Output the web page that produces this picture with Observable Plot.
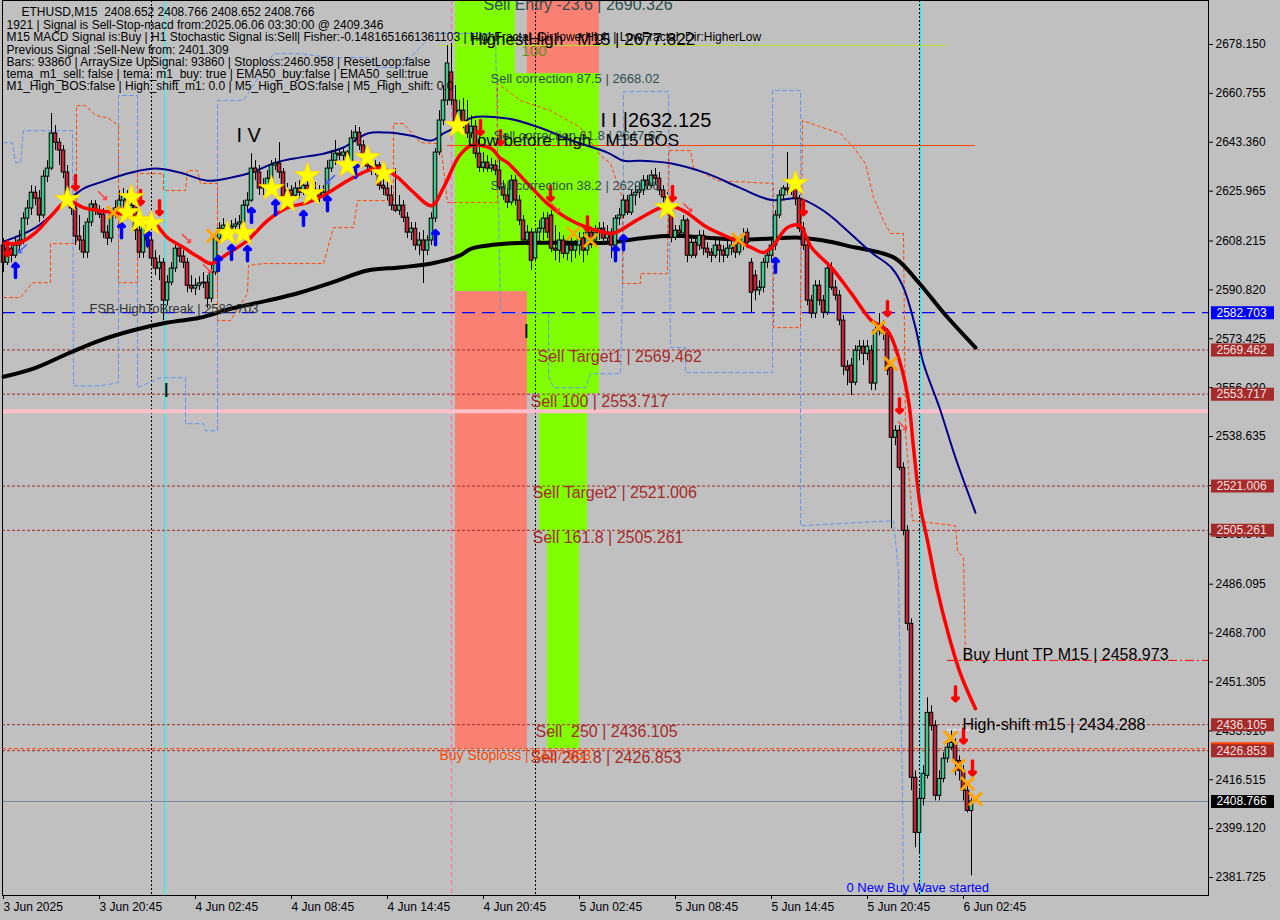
<!DOCTYPE html>
<html><head><meta charset="utf-8"><title>ETHUSD M15</title>
<script src="https://cdn.jsdelivr.net/npm/d3@7"></script>
<script src="https://cdn.jsdelivr.net/npm/@observablehq/plot@0.6"></script>
<style>html,body{margin:0;padding:0;background:#c0c0c0;overflow:hidden}#chart svg{display:block}</style>
</head><body><div id="chart"></div>
<script>
// ---------------- DATA ----------------
const opens=[2606.6,2600.5,2605.5,2603.0,2606.6,2608.4,2616.2,2619.8,2625.4,2623.3,
2617.3,2631.1,2634.0,2646.5,2643.2,2640.4,2632.6,2622.6,2619.8,2609.8,
2608.4,2604.1,2614.8,2621.2,2619.0,2617.6,2611.2,2609.1,2617.3,2619.8,
2622.6,2624.0,2619.0,2620.8,2611.9,2604.1,2613.7,2608.4,2602.0,2598.4,
2600.5,2587.0,2593.4,2598.4,2605.5,2602.7,2600.5,2592.3,2591.3,2592.3,
2593.1,2593.4,2587.7,2597.0,2609.1,2612.6,2613.7,2612.6,2613.3,2614.1,
2614.8,2620.8,2622.6,2634.0,2632.6,2626.9,2627.9,2630.4,2635.1,2635.8,
2632.6,2624.0,2626.2,2624.4,2626.9,2625.4,2627.9,2625.4,2624.4,2626.2,
2624.0,2625.4,2634.0,2636.8,2639.3,2638.6,2639.7,2635.1,2644.7,2646.8,
2642.2,2637.6,2634.7,2633.3,2635.1,2627.9,2626.9,2624.4,2620.8,2619.0,
2620.8,2616.5,2611.2,2612.6,2606.6,2608.4,2604.8,2608.4,2616.2,2639.7,
2651.1,2658.2,2668.2,2658.2,2648.6,2654.6,2650.4,2646.5,2648.9,2639.3,
2634.3,2636.1,2634.0,2635.1,2633.3,2627.2,2624.4,2621.9,2629.7,2622.6,
2615.5,2608.4,2611.2,2602.0,2611.2,2612.6,2616.2,2617.3,2605.5,2604.8,
2608.4,2603.7,2606.6,2604.8,2606.6,2609.1,2604.8,2611.2,2608.4,2611.2,
2612.6,2609.1,2611.2,2606.6,2616.2,2617.3,2622.6,2618.3,2624.4,2625.4,
2626.2,2629.7,2627.9,2631.5,2630.4,2626.2,2623.7,2619.0,2609.4,2611.9,
2610.9,2615.5,2603.0,2607.6,2606.6,2610.1,2605.5,2604.1,2603.0,2606.6,
2604.8,2603.0,2605.5,2606.6,2604.1,2607.6,2611.2,2600.5,2595.9,2590.6,
2591.6,2600.5,2603.0,2606.6,2617.3,2624.4,2626.9,2626.2,2626.9,2623.3,
2612.6,2606.6,2587.0,2582.4,2592.3,2587.0,2582.7,2598.4,2591.6,2588.8,
2579.9,2563.5,2563.9,2557.8,2569.2,2570.6,2568.1,2569.2,2557.5,2576.3,
2577.4,2575.3,2563.1,2538.2,2540.7,2527.5,2505.1,2472.0,2417.2,2397.6,
2409.7,2417.9,2440.3,2435.7,2410.8,2416.8,2424.0,2427.9,2429.6,2423.2,
2419.7,2412.6,2405.4];
const highs=[2609.1,2608.4,2607.6,2609.1,2611.9,2618.3,2622.6,2627.9,2627.6,2626.2,
2633.3,2636.8,2653.6,2649.3,2644.7,2642.2,2635.1,2624.4,2621.5,2617.3,
2613.7,2616.2,2622.6,2622.6,2620.8,2619.8,2613.7,2619.0,2622.6,2626.2,
2626.9,2626.2,2624.4,2622.6,2613.7,2616.2,2615.5,2610.1,2604.8,2603.0,
2602.0,2595.9,2600.5,2606.9,2606.9,2604.8,2602.0,2595.9,2594.8,2595.5,
2597.0,2595.9,2599.5,2611.2,2614.8,2616.2,2615.5,2615.5,2616.2,2617.3,
2622.6,2625.4,2639.3,2636.8,2635.1,2630.4,2633.3,2636.8,2637.6,2643.2,
2634.0,2628.7,2627.9,2629.0,2629.7,2631.5,2629.7,2627.9,2629.0,2627.9,
2627.9,2636.8,2640.4,2644.0,2641.1,2641.1,2640.4,2647.5,2649.3,2648.6,
2644.0,2639.7,2636.8,2636.8,2636.1,2631.5,2629.7,2627.9,2634.0,2624.4,
2622.6,2618.3,2614.8,2614.8,2611.2,2611.9,2610.1,2618.3,2641.1,2654.6,
2663.5,2677.8,2678.5,2663.5,2658.2,2658.9,2658.2,2652.9,2651.1,2647.5,
2639.7,2638.6,2637.6,2636.8,2636.8,2629.7,2626.9,2631.5,2631.5,2624.4,
2617.3,2613.7,2612.6,2612.6,2615.5,2618.3,2618.3,2619.0,2613.7,2611.2,
2610.1,2608.4,2609.1,2608.4,2611.2,2611.2,2612.6,2612.6,2613.7,2614.8,
2614.8,2613.7,2612.6,2617.3,2619.8,2624.4,2624.4,2626.2,2627.9,2629.0,
2631.5,2631.5,2633.3,2634.0,2632.6,2627.9,2625.4,2619.8,2613.7,2613.7,
2617.3,2616.2,2609.1,2609.1,2611.9,2611.9,2607.6,2605.5,2608.4,2608.4,
2606.6,2608.4,2608.4,2609.1,2609.1,2612.6,2612.6,2602.0,2597.7,2594.1,
2602.0,2604.8,2608.4,2619.0,2626.2,2627.9,2639.7,2629.7,2628.7,2624.4,
2614.8,2608.4,2588.8,2594.1,2594.1,2588.8,2600.5,2600.5,2594.1,2590.6,
2581.7,2565.6,2566.4,2571.0,2572.8,2572.8,2572.8,2571.0,2578.1,2582.4,
2579.9,2577.0,2564.9,2542.5,2542.5,2529.3,2506.9,2473.8,2419.7,2412.6,
2421.5,2445.7,2442.8,2437.5,2419.7,2426.1,2430.4,2433.9,2431.1,2425.0,
2421.5,2414.3,2409.7];
const lows=[2597.0,2599.5,2600.5,2602.0,2604.8,2606.9,2613.7,2617.3,2620.8,2614.8,
2616.2,2629.0,2633.3,2640.4,2635.1,2630.4,2620.8,2617.3,2606.6,2604.8,
2602.0,2602.0,2613.3,2617.3,2616.2,2609.1,2606.6,2607.6,2616.2,2617.3,
2619.0,2616.2,2615.5,2608.4,2602.0,2602.0,2605.5,2599.5,2595.9,2594.1,
2579.9,2585.2,2592.3,2597.0,2600.5,2598.4,2589.8,2589.8,2588.8,2590.6,
2591.3,2584.2,2586.3,2595.9,2607.6,2611.2,2611.2,2611.2,2611.9,2611.9,
2613.7,2618.3,2621.9,2629.7,2624.4,2624.4,2625.4,2629.0,2633.3,2630.4,
2622.6,2622.6,2622.6,2623.3,2623.3,2624.4,2623.3,2622.6,2622.6,2621.9,
2622.6,2624.4,2632.6,2635.1,2636.8,2636.8,2633.3,2634.0,2643.2,2640.4,
2635.1,2633.3,2631.5,2631.5,2626.2,2624.4,2622.6,2619.0,2618.3,2617.3,
2614.8,2609.1,2608.4,2604.8,2603.0,2593.1,2603.0,2606.6,2614.8,2638.6,
2649.3,2656.4,2656.4,2647.5,2646.8,2648.2,2644.7,2644.7,2637.6,2632.6,
2632.6,2632.6,2632.6,2631.5,2626.2,2622.6,2619.8,2620.8,2620.8,2613.7,
2606.6,2606.6,2597.7,2600.5,2607.6,2608.4,2609.1,2604.1,2601.2,2600.5,
2602.0,2601.2,2600.5,2602.0,2603.0,2600.5,2603.0,2605.5,2606.6,2608.4,
2607.6,2607.6,2602.0,2605.5,2613.7,2616.2,2617.3,2617.3,2620.8,2623.3,
2624.4,2626.2,2626.9,2627.9,2624.4,2621.9,2619.0,2607.6,2608.4,2609.1,
2609.1,2600.5,2602.0,2602.0,2604.8,2603.0,2602.0,2600.5,2602.0,2600.5,
2600.5,2602.0,2603.0,2602.0,2603.0,2604.8,2605.5,2582.7,2587.0,2588.8,
2589.8,2598.4,2600.5,2604.8,2616.2,2622.6,2624.4,2624.4,2620.8,2611.2,
2604.8,2585.2,2580.6,2580.6,2585.2,2580.6,2581.7,2590.6,2587.0,2578.1,
2560.3,2556.7,2553.2,2556.7,2565.6,2563.9,2565.6,2555.0,2555.0,2574.5,
2572.8,2560.3,2505.8,2535.4,2526.5,2503.3,2469.5,2412.6,2392.3,2390.1,
2407.2,2416.8,2433.9,2409.0,2409.0,2415.4,2422.5,2426.8,2417.9,2416.1,
2409.0,2404.7,2382.3];
const closes=[2600.5,2605.5,2603.0,2606.6,2608.4,2616.2,2619.8,2625.4,2623.3,2617.3,
2631.1,2634.0,2646.5,2643.2,2640.4,2632.6,2622.6,2619.8,2609.8,2608.4,
2604.1,2614.8,2621.2,2619.0,2617.6,2611.2,2609.1,2617.3,2619.8,2622.6,
2624.0,2619.0,2620.8,2611.9,2604.1,2613.7,2608.4,2602.0,2598.4,2600.5,
2587.0,2593.4,2598.4,2605.5,2602.7,2600.5,2592.3,2591.3,2592.3,2593.1,
2593.4,2587.7,2597.0,2609.1,2612.6,2613.7,2612.6,2613.3,2614.1,2614.8,
2620.8,2622.6,2634.0,2632.6,2626.9,2627.9,2630.4,2635.1,2635.8,2632.6,
2624.0,2626.2,2624.4,2626.9,2625.4,2627.9,2625.4,2624.4,2626.2,2624.0,
2625.4,2634.0,2636.8,2639.3,2638.6,2639.7,2635.1,2644.7,2646.8,2642.2,
2637.6,2634.7,2633.3,2635.1,2627.9,2626.9,2624.4,2620.8,2619.0,2620.8,
2616.5,2611.2,2612.6,2606.6,2608.4,2604.8,2608.4,2616.2,2639.7,2651.1,
2658.2,2671.4,2658.2,2648.6,2654.6,2650.4,2646.5,2648.9,2639.3,2634.3,
2636.1,2634.0,2635.1,2633.3,2627.2,2624.4,2621.9,2629.7,2622.6,2615.5,
2608.4,2611.2,2601.2,2611.2,2612.6,2616.2,2611.2,2605.5,2604.8,2608.4,
2603.7,2606.6,2604.8,2606.6,2609.1,2604.8,2611.2,2608.4,2611.2,2612.6,
2609.1,2611.2,2606.6,2616.2,2617.3,2622.6,2618.3,2624.4,2625.4,2626.2,
2629.7,2627.9,2631.5,2630.4,2626.2,2623.7,2620.8,2609.4,2611.9,2610.9,
2615.5,2603.0,2607.6,2603.0,2610.1,2605.5,2604.1,2603.0,2606.6,2604.8,
2603.0,2605.5,2606.6,2604.1,2607.6,2610.1,2607.6,2589.8,2590.6,2591.6,
2600.5,2603.0,2606.6,2617.3,2624.4,2626.9,2626.2,2626.9,2623.3,2612.6,
2606.6,2587.0,2582.4,2592.3,2587.0,2582.7,2598.4,2591.6,2588.8,2579.9,
2563.5,2562.1,2557.8,2569.2,2570.6,2568.1,2570.6,2557.5,2576.3,2577.4,
2575.3,2562.1,2538.2,2540.7,2527.5,2505.1,2472.0,2417.2,2397.6,2409.7,
2418.6,2440.3,2435.7,2410.8,2416.8,2424.0,2427.9,2429.6,2423.2,2419.7,
2412.6,2405.4,2408.766];

// moving averages (bar index, price)
const maSlowIdx=[0,8,16,24,32,41,49,57,66,74,82,91,99,107,114,117,126,134,142,151,159,167,176,184,192,199,205,213,217,223,229,235,243];
const maSlowVal=[2559.9,2563.1,2568.1,2572.8,2576.3,2579.2,2580.9,2584.2,2587.0,2589.8,2593.4,2597.7,2598.8,2600.2,2603.0,2605.5,2607.3,2607.6,2607.6,2607.6,2609.1,2610.1,2609.4,2608.7,2609.1,2609.4,2608.4,2605.9,2604.8,2602.0,2593.1,2582.7,2570.3];
const ma50Idx=[0,8,16,20,24,32,38,44,51,57,62,68,74,80,85,91,96,102,107,110,114,117,126,134,142,151,155,159,167,176,184,192,199,205,209,217,222,225,228,230,234,238,243];
const ma50Val=[2608.0,2613.0,2622.6,2626.9,2629.0,2632.6,2634.0,2632.6,2629.7,2630.8,2632.6,2636.1,2637.9,2639.3,2641.5,2646.5,2646.8,2645.7,2644.0,2646.5,2649.3,2652.1,2651.8,2648.6,2644.0,2639.7,2636.8,2636.8,2635.8,2632.2,2627.2,2622.8,2623.3,2619.0,2614.4,2604.1,2598.7,2591.6,2577.4,2564.6,2548.9,2531.1,2511.5];
const maFastIdx=[0,4,8,12,16,20,24,29,32,37,41,45,49,52,56,61,66,71,76,80,86,91,94,98,102,107,110,114,117,122,124,126,131,136,141,146,152,154,159,166,170,176,182,187,190,192,196,199,202,207,212,217,221,224,226.25,227.5,229.25,231,233.5,236,239.25,243];
const maFastVal=[2607.3,2607.6,2611.2,2617.3,2622.6,2620.1,2619.0,2618.0,2616.5,2615.5,2609.4,2605.9,2602.3,2600.2,2603.7,2608.4,2615.5,2620.1,2621.9,2624.4,2629.7,2633.3,2634.3,2631.5,2626.2,2620.8,2627.2,2638.6,2642.2,2641.1,2637.9,2636.1,2628.7,2621.5,2616.2,2613.0,2610.9,2611.9,2616.2,2620.8,2619.0,2613.0,2609.1,2605.9,2604.1,2605.9,2613.0,2613.7,2605.9,2598.7,2589.5,2579.9,2576.3,2565.6,2551.4,2534.7,2513.3,2501.6,2483.8,2469.5,2454.2,2441.8];

// trailing stop step lines
const stopAIdx=[0,4.25,7.25,11.75,11.75,18.25,18.25,20.5,23,26,28.75,28.75,33.5,33.5,40,40,45.5,46,48.5,49.25,53.5,53.5,56.75,61,61.25,65,80,82.5,87.5,88.5,97.5,97.5,100,104.25,109.25,111,123.5,123.5,129.25,136.75,144.25,149.25,151.75,154.75,154.75,159.25,159.25,166,166.25,171.75,172.5,178.5,192.5,192.5,199.25,199.75,209.25,212.5,215.5,217.5,220,221.75,225,225.5,227.25,238,238.5,240,240.5];
const stopAVal=[2588.1,2588.1,2593.4,2593.4,2607.3,2607.3,2656.4,2656.4,2652.9,2652.1,2649.3,2593.4,2593.4,2632.2,2632.2,2626.2,2626.2,2633.3,2633.3,2628.7,2628.7,2579.9,2579.9,2589.5,2599.5,2600.2,2600.2,2613.0,2613.0,2622.6,2622.6,2650.0,2650.0,2643.2,2642.9,2621.9,2621.9,2664.3,2658.2,2654.6,2648.6,2638.6,2635.8,2623.7,2593.1,2593.1,2596.6,2596.6,2640.4,2640.4,2634.3,2629.7,2628.7,2577.4,2577.4,2651.1,2646.4,2641.5,2635.8,2623.7,2615.5,2610.9,2610.9,2540.7,2508.7,2506.9,2498.0,2495.5,2458.8];
const stopBIdx=[0,2.25,3,4.25,5,17.25,17.5,24.25,28.75,28.75,33.5,33.5,39.25,45.5,45.5,50,50.5,53.5,53.5,60,67.5,74.25,81.75,91,93.5,99.25,107.5,123,124.25,136.25,136.25,137.5,145.5,146.75,154.25,155,155,166.25,166.75,170.5,170.5,192.25,192.25,199.25,199.25,222.5,223,223.75,224.25,224.75,225];
const stopBVal=[2643.2,2643.2,2636.1,2636.1,2647.5,2647.5,2556.7,2556.7,2557.8,2660.0,2660.0,2556.0,2559.6,2559.6,2543.2,2543.2,2540.7,2540.7,2658.2,2658.2,2674.9,2674.9,2673.5,2673.5,2670.0,2670.0,2682.1,2682.1,2582.4,2582.4,2560.3,2556.0,2556.0,2561.0,2561.0,2604.8,2661.4,2661.4,2570.3,2570.3,2561.4,2561.4,2661.8,2661.8,2506.9,2508.7,2501.6,2490.9,2447.1,2412.6,2376.0];

// signal markers
const starIdx=[16,32,31,34,37,56,60,67,71,76,77,86,91,95,113.5,166,198];
const starVal=[2623.0,2623.7,2618.3,2615.5,2614.4,2610.9,2610.9,2626.9,2622.6,2631.5,2625.1,2635.1,2637.9,2632.2,2649.3,2620.1,2628.7];
const crossIdx=[27.5,52.5,142.5,146.75,183.75,218.75,221.75,236.75,238.75,241,243];
const crossVal=[2618.3,2610.1,2610.9,2608.4,2608.7,2577.4,2564.6,2431.4,2421.5,2415.1,2409.7];
const sellArrowIdx=[1,18,34.25,39,119.25,124.25,136.75,146,167.25,200,221,224,238,240,242.25];
const sellArrowVal=[2605.5,2629.0,2623.7,2620.1,2648.6,2645.0,2625.1,2614.4,2625.1,2620.1,2584.2,2549.6,2447.1,2432.1,2420.7];
const buyArrowIdx=[3,29.5,36,53.75,57,61,62,68,75,81,88,108,153,155,193];
const buyArrowVal=[2597.7,2611.9,2609.1,2600.2,2604.1,2603.7,2617.3,2620.1,2616.2,2621.5,2633.3,2609.4,2603.7,2607.6,2599.5];
const sellHintIdx=[24.75,45.75,51,138,171,224.75];
const sellHintVal=[2624.4,2609.1,2598.4,2620.1,2620.1,2542.5];
const buyHintIdx=[4.75,81.75];
const buyHintVal=[2605.5,2630.1];

// zones
const zoneI1=[113,128,131,131,113,134,136];
const zoneI2=[128,131,149,149,131,146,144];
const zoneP1=[2590.2,2590.2,2553.9,2667.8,2427.5,2505.1,2427.5];
const zoneP2=[2700,2667.8,2667.8,2700,2590.2,2553.9,2505.1];
const zoneKind=["buy","buy","buy","sell","sell","buy","buy"];

// levels
const sellLevels=[2569.462,2553.717,2521.006,2505.261,2436.105,2426.853];
const fsbLevel=2582.703, pinkLevel=2547.6, buyStopLevel=2427.553, bidPrice=2408.766;
const huntTP=2458.973, highShift=2434.288, highestHigh=2677.822, bosLevel=2642.2;
const huntFrom=236, highFrom=109, highTo=236, bosFrom=111, bosTo=243, shiftTo=243;

// vertical markers (bar index)
const vDotIdx=[37,133,229], vCyanIdx=[40,229], vPinkIdx=[112];

// labels on chart
const labelText=["Sell Entry -23.6 | 2690.326","HighestHigh   M15 | 2677.822","100","Sell correction 87.5 | 2668.02","I I |2632.125","Low before High   M15 BOS","Sell correction 61.8 | 2647.67","Sell correction 38.2 | 2629.86","I V","I","I","FSB-HighToBreak | 2582.703","Sell Target1 | 2569.462","Sell 100 | 2553.717","Sell Target2 | 2521.006","Sell 161.8 | 2505.261","Buy Hunt TP M15 | 2458.973","High-shift m15 | 2434.288","Sell  250 | 2436.105","Buy Stoploss | 2427.653","Sell 261.8 | 2426.853","0 New Buy Wave started"];
const labelIdx=[120,116.75,129.5,121.75,149.25,116,122.5,121.75,58.25,40,130,21.5,133.5,131.75,132.25,132.25,239.75,239.75,133,109,131.75,210.75];
const labelPrice=[2690.326,2677.822,2677.822,2668.02,2651.1,2642.2,2647.67,2629.86,2645.7,2555.0,2576.0,2582.703,2569.462,2553.717,2521.006,2505.261,2458.973,2434.288,2436.105,2427.553,2426.853,2378.0];
const labelKind=["entry","struct","hundred","corr","wave","struct","corr","corr","wave","wave","wave","fsb","fib","fib","fib","fib","hunt","hunt","fib","stop","fib","info"];

// header
const headerTitle="ETHUSD,M15  2408.652 2408.766 2408.652 2408.766";
const headerLines=["1921 | Signal is Sell-Stop-macd from:2025.06.06 03:30:00 @ 2409.346",
"M15 MACD Signal is:Buy | H1 Stochastic Signal is:Sell| Fisher:-0.1481651661361103 | HighFractal_Dir:lowerHigh | LowFractal_Dir:HigherLow",
"Previous Signal :Sell-New from: 2401.309",
"Bars: 93860 | ArraySize UpSignal: 93860 | Stoploss:2460.958 | ResetLoop:false",
"tema_m1_sell: false | tema_m1_buy: true | EMA50_buy:false | EMA50_sell:true",
"M1_High_BOS:false | High_shift_m1: 0.0 | M5_High_BOS:false | M5_High_shift: 0.0"];

// axes
const priceTicks=[2678.150,2660.755,2643.360,2625.965,2608.215,2590.820,2573.425,2556.030,2538.635,2521.240,2503.845,2486.095,2468.700,2451.305,2433.910,2416.515,2399.120,2381.725];
const timeTickIdx=[0,24,48,72,96,120,144,168,192,216,240];
const timeTickLabels=["3 Jun 2025","3 Jun 20:45","4 Jun 02:45","4 Jun 08:45","4 Jun 14:45","4 Jun 20:45","5 Jun 02:45","5 Jun 08:45","5 Jun 14:45","5 Jun 20:45","6 Jun 02:45"];
const tagPrices=[2582.703,2569.462,2553.717,2521.006,2505.261,2427.553,2436.105,2426.853,2408.766];
const tagKind=["fsb","level","level","level","level","stop","level","level","bid"];

// ---------------- BUILD ----------------
const nb=s=>s.replace(/ /g,"\u00a0");
const zip=(a,b)=>a.slice(0,Math.min(a.length,b.length)).map((x,k)=>({i:x,p:b[k]}));
const n=Math.min(opens.length,highs.length,lows.length,closes.length);
const candles=d3.range(n).map(i=>({i,o:opens[i],h:highs[i],l:lows[i],c:closes[i]}));
const zones=zoneI1.map((a,k)=>({a,b:zoneI2[k],p1:zoneP1[k],p2:zoneP2[k],kind:zoneKind[k]}));
const labels=labelText.map((t,k)=>({t:nb(t),i:labelIdx[k],p:labelPrice[k],kind:labelKind[k]}));
const tickLabelMap=new Map(timeTickIdx.map((v,k)=>[v,timeTickLabels[k]]));
const X0=-0.25, X1=301.25;

const zoneColor={buy:"#7fff00",sell:"#fa8072"};
const labelStyle={
  corr:{fill:"#2f4f4f",size:13,anchor:"top",dy:1},
  fib:{fill:"#a52a2a",size:16,anchor:"top",dy:1},
  stop:{fill:"#ff4500",size:14,anchor:"top",dy:1},
  hundred:{fill:"#6b8e23",size:15,anchor:"top",dy:0},
  entry:{fill:"#2f4f4f",size:16,anchor:"bottom",dy:0},
  struct:{fill:"#000000",size:17,anchor:"bottom",dy:0},
  fsb:{fill:"#333333",size:13,anchor:"bottom",dy:0},
  hunt:{fill:"#000000",size:16,anchor:"bottom",dy:0},
  wave:{fill:"#000000",size:20,anchor:"middle",dy:0},
  info:{fill:"#0000ff",size:13,anchor:"middle",dy:0}
};
const tagStyle={fsb:{bg:"#0000ff",fg:"#ffffff"},level:{bg:"#a52a2a",fg:"#f8e0e0"},stop:{bg:"#ff4500",fg:null},bid:{bg:"#000000",fg:"#ffffff"}};

const marks=[
  Plot.rect(zones,{x1:"a",x2:"b",y1:"p1",y2:"p2",fill:d=>zoneColor[d.kind],clip:true}),
  Plot.ruleX(vDotIdx,{stroke:"#000",strokeDasharray:"2,2",strokeWidth:1}),
  Plot.ruleX(vCyanIdx,{stroke:"#00ffff",strokeWidth:1,dx:1}),
  Plot.ruleX(vPinkIdx,{stroke:"#ff69b4",strokeDasharray:"5,3",strokeWidth:1}),
  Plot.ruleY([pinkLevel],{stroke:"#ffc0cb",strokeWidth:4}),
  Plot.ruleY(sellLevels,{stroke:"#a52a2a",strokeDasharray:"3,2",strokeWidth:1}),
  Plot.ruleY([buyStopLevel],{stroke:"#ff4500",strokeDasharray:"4,2",strokeWidth:1}),
  Plot.ruleY([fsbLevel],{stroke:"#0000ff",strokeDasharray:"13,7",strokeWidth:1.3}),
  Plot.ruleY([{p:huntTP,a:huntFrom,b:X1}],{y:"p",x1:"a",x2:"b",stroke:"#ff0000",strokeDasharray:"9,3,2,3",strokeWidth:1}),
  Plot.ruleY([{p:highestHigh,a:highFrom,b:highTo}],{y:"p",x1:"a",x2:"b",stroke:"#b8e030",strokeWidth:1}),
  Plot.ruleY([{p:bosLevel,a:bosFrom,b:bosTo}],{y:"p",x1:"a",x2:"b",stroke:"#ff4500",strokeWidth:1}),
  Plot.ruleY([{p:highShift,a:huntFrom,b:shiftTo}],{y:"p",x1:"a",x2:"b",stroke:"#ffffff",strokeDasharray:"4,2",strokeWidth:1}),
  Plot.ruleY([bidPrice],{stroke:"#778899",strokeWidth:1}),
  Plot.line(zip(stopBIdx,stopBVal),{x:"i",y:"p",stroke:"#6495ed",strokeDasharray:"4,3",strokeWidth:1,clip:true}),
  Plot.line(zip(stopAIdx,stopAVal),{x:"i",y:"p",stroke:"#ff4500",strokeDasharray:"3,3",strokeWidth:1,clip:true}),
  Plot.line(zip(maSlowIdx,maSlowVal),{x:"i",y:"p",stroke:"#000000",strokeWidth:4,curve:"catmull-rom"}),
  Plot.line(zip(ma50Idx,ma50Val),{x:"i",y:"p",stroke:"#00008b",strokeWidth:2,curve:"catmull-rom"}),
  Plot.ruleX(candles,{x:"i",y1:"l",y2:"h",stroke:"#000",strokeWidth:1}),
  Plot.rect(candles,{x1:d=>d.i-0.45,x2:d=>d.i+0.45,y1:"o",y2:"c",fill:d=>d.c>=d.o?"#3ccc8a":"#cc1f35",stroke:"#000",strokeWidth:1}),
  Plot.line(zip(maFastIdx,maFastVal),{x:"i",y:"p",stroke:"#ff0000",strokeWidth:3.5,curve:"catmull-rom"}),
  Plot.vector(zip(sellHintIdx,sellHintVal),{x:"i",y:"p",rotate:135,length:11,anchor:"middle",stroke:"#ff4040",strokeWidth:1.5}),
  Plot.vector(zip(buyHintIdx,buyHintVal),{x:"i",y:"p",rotate:225,length:11,anchor:"middle",stroke:"#4060ff",strokeWidth:1.5}),
  Plot.vector(zip(sellArrowIdx,sellArrowVal),{x:"i",y:"p",rotate:180,length:14,anchor:"middle",stroke:"#ff0000",strokeWidth:3.5}),
  Plot.vector(zip(buyArrowIdx,buyArrowVal),{x:"i",y:"p",rotate:0,length:14,anchor:"middle",stroke:"#0000ff",strokeWidth:3.5}),
  Plot.dot(zip(starIdx,starVal),{x:"i",y:"p",symbol:"star",r:8,fill:"#ffff00",stroke:"#ffd000",strokeWidth:0.8}),
  Plot.dot(zip(crossIdx,crossVal),{x:"i",y:"p",symbol:"times",r:6,stroke:"#ffa500",strokeWidth:3}),
  ...Object.entries(labelStyle).map(([k,s])=>Plot.text(labels.filter(d=>d.kind===k),{x:"i",y:"p",text:"t",fill:s.fill,fontSize:s.size,lineAnchor:s.anchor,textAnchor:"start",dy:s.dy})),
  Plot.text([nb(headerTitle)],{frameAnchor:"top-left",dx:19,dy:7,lineAnchor:"top",textAnchor:"start",fontSize:12,fill:"#000"}),
  Plot.text([headerLines.join("\n")],{frameAnchor:"top-left",dx:4,dy:20,lineAnchor:"top",textAnchor:"start",fontSize:12,lineHeight:1.015,fill:"#000"}),
  Plot.frame({stroke:"#000"}),
  Plot.axisY(priceTicks,{anchor:"right",tickSize:4,tickPadding:3,tickFormat:d=>d.toFixed(3),fontSize:12,label:null,stroke:"#000",fill:"#000"}),
  Plot.axisX(timeTickIdx,{anchor:"bottom",tickSize:4,tickPadding:3,tickFormat:d=>tickLabelMap.get(d),textAnchor:"start",fontSize:12,label:null,stroke:"#000",fill:"#000"}),
  ...tagPrices.flatMap((p,k)=>{
    const s=tagStyle[tagKind[k]];
    const m=[Plot.ruleY([p],{stroke:s.bg,strokeWidth:13,insetLeft:1209,insetRight:-66})];
    if(s.fg) m.push(Plot.text([p],{y:d=>d,text:d=>d.toFixed(3),frameAnchor:"right",textAnchor:"start",dx:8,fill:s.fg,fontSize:12}));
    return m;
  })
];

const chart=Plot.plot({
  width:1280,height:920,marginLeft:2,marginRight:72,marginTop:0,marginBottom:25,
  x:{type:"linear",domain:[X0,X1]},
  y:{type:"linear",domain:[2375.32,2693.807]},
  color:{type:"identity"},
  style:{background:"#c0c0c0",fontFamily:"'Liberation Sans', Arial, sans-serif",fontSize:"12px",color:"#000",overflow:"visible"},
  marks
});
document.getElementById("chart").appendChild(chart);
</script></body></html>
